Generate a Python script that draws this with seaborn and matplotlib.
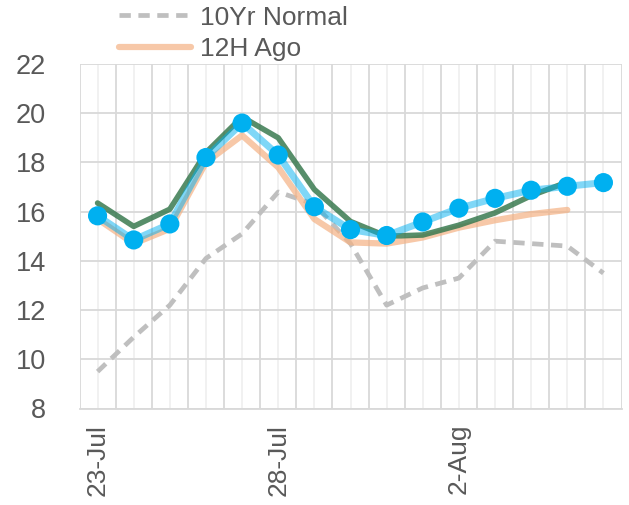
import numpy as np
import pandas as pd
import matplotlib
matplotlib.use("Agg")
import matplotlib.pyplot as plt
import seaborn as sns
from matplotlib.ticker import MultipleLocator

# chart data
dates = ["23-Jul", "24-Jul", "25-Jul", "26-Jul", "27-Jul", "28-Jul", "29-Jul", "30-Jul",
         "31-Jul", "1-Aug", "2-Aug", "3-Aug", "4-Aug", "5-Aug", "6-Aug"]
normal_10yr = [9.5, 10.9, 12.2, 14.1, 15.1, 16.8, 16.3, 14.7, 12.2, 12.9, 13.3, 14.8, 14.7, 14.6, 13.5]
ago_12h = [15.7, 14.7, 15.3, 18.0, 19.1, 17.8, 15.7, 14.75, 14.7, 14.95, 15.35, 15.65, 15.9, 16.07, np.nan]
previous = [16.35, 15.4, 16.1, 18.4, 19.85, 19.0, 16.9, 15.6, 15.0, 15.05, 15.45, 15.95, 16.65, 17.2, np.nan]
current = [15.83, 14.85, 15.5, 18.2, 19.6, 18.3, 16.2, 15.27, 15.03, 15.58, 16.14, 16.54, 16.87, 17.03, 17.18]
tick_labels = {0: "23-Jul", 5: "28-Jul", 10: "2-Aug"}

df = pd.DataFrame({"day": np.arange(len(dates)), "normal": normal_10yr,
                   "ago": ago_12h, "prev": previous, "cur": current})

sns.set_style("white")
plt.rcParams["font.family"] = ["Liberation Sans", "DejaVu Sans"]
text_col = "#595959"

fig = plt.figure(figsize=(6.29, 5.05), dpi=100)
ax = fig.add_axes([79.5 / 629, 1 - 408.5 / 505, 542 / 629, 344.5 / 505])

sns.lineplot(data=df, x="day", y="normal", ax=ax, color="#BFBFBF", lw=3.4,
             linestyle=(0, (2.4, 1.6)), label="10Yr Normal", zorder=3)
sns.lineplot(data=df, x="day", y="ago", ax=ax, color="#F4B183", lw=4.5, alpha=0.7,
             label="12H Ago", zorder=4)
sns.lineplot(data=df, x="day", y="prev", ax=ax, color="#3A7A50", lw=4.0, alpha=0.85,
             label="_prev", zorder=5)
sns.lineplot(data=df, x="day", y="cur", ax=ax, color="#00B0F0", lw=5.0, alpha=0.5,
             label="_cur", zorder=6)
sns.scatterplot(data=df, x="day", y="cur", ax=ax, color="#00B0F0", s=190,
                edgecolor="none", zorder=7, legend=False)

ax.set_xlim(-0.5, len(dates) - 0.5)
ax.set_ylim(8, 22)
ax.yaxis.set_major_locator(MultipleLocator(2))

# major gridlines at day boundaries, light ones at the day centres
ax.set_xticks(np.arange(-0.5, len(dates), 1.0))
ax.set_xticklabels([])
ax.set_xticks(list(tick_labels.keys()), minor=True)
ax.set_xticklabels(list(tick_labels.values()), minor=True, rotation=90,
                   fontsize=19, color=text_col)
ax.tick_params(axis="x", which="major", length=9, width=1.3, color="#D9D9D9", direction="out")
ax.tick_params(axis="x", which="minor", length=0, pad=11)
ax.tick_params(axis="y", length=0, pad=24, labelsize=19.5, labelcolor=text_col)

ax.grid(True, axis="y", color="#D9D9D9", lw=1.3)
ax.grid(True, axis="x", which="major", color="#D9D9D9", lw=1.3)
for d in df["day"]:
    ax.axvline(d, color="#F0F0F0", lw=1.3, zorder=0)
ax.set_axisbelow(True)

for side in ["top", "right", "left"]:
    ax.spines[side].set_visible(False)
ax.spines["bottom"].set_color("#D9D9D9")
ax.spines["bottom"].set_linewidth(1.3)

ax.set_xlabel("")
ax.set_ylabel("")

leg = ax.legend(loc="upper left", bbox_to_anchor=(108 / 629, 1 + 5 / 505),
                bbox_transform=fig.transFigure, frameon=False, fontsize=19,
                handlelength=2.75, handletextpad=0.35, labelspacing=0.3,
                borderaxespad=0)
for t in leg.get_texts():
    t.set_color(text_col)

fig.savefig("out.png", dpi=100)
plt.close(fig)
